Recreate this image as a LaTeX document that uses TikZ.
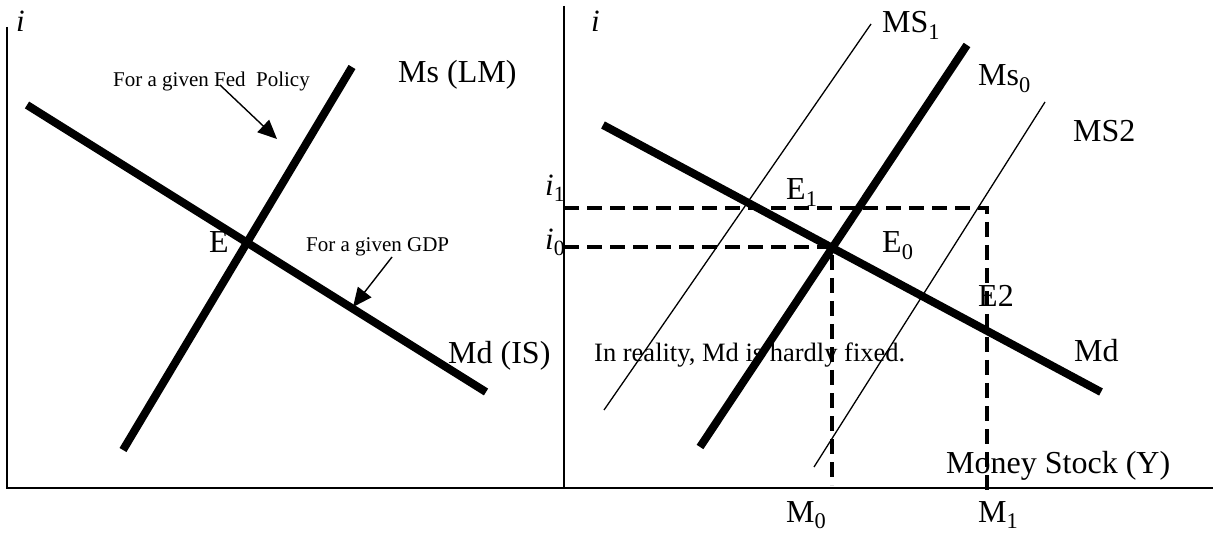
\documentclass[tikz,border=0pt]{standalone}
\usepackage{fontspec}
\setmainfont{Liberation Serif}
\usetikzlibrary{arrows.meta}
\begin{document}
\begin{tikzpicture}[x=1pt,y=-1pt,
  big/.style={font=\fontsize{32}{32}\selectfont, inner sep=0pt, anchor=base west},
  mid/.style={font=\fontsize{26.5}{26.5}\selectfont, inner sep=0pt, anchor=base west},
  ilabel/.style={font=\fontsize{31}{31}\selectfont, inner sep=0pt, anchor=base west},
  small/.style={font=\fontsize{21}{21}\selectfont, inner sep=0pt, anchor=base west},
  axisline/.style={line width=1.8pt},
  curve/.style={line width=8pt},
  thinline/.style={line width=1.3pt},
  dashline/.style={line width=3.5pt, dash pattern=on 15pt off 8pt},
  pointer/.style={line width=1.4pt, -{Triangle[length=19pt,width=17pt]}}]
\useasboundingbox (0,0) rectangle (1215,534);

% ---------- texts ----------
\node[ilabel] (iL) at (16,32) {\textit{i}};
\node[ilabel] (iR) at (591,32) {\textit{i}};
\node[small] (fed) at (113,87) {For a given Fed\ \ Policy};
\node[big] (mslm) at (398,83) {Ms (LM)};
\node[big] (E) at (209,253) {E};
\node[small] (gdp) at (306,252) {For a given GDP};
\node[big] (mdis) at (448,363) {Md (IS)};

\node[big] (ms1) at (882,33) {MS\textsubscript{1}};
\node[big] (ms0) at (978,86) {Ms\textsubscript{0}};
\node[big] (ms2) at (1073,142) {MS2};
\node[big] (e1) at (786,200) {E\textsubscript{1}};
\node[big] (e0) at (882,253) {E\textsubscript{0}};
\node[big] (e2) at (978,307) {E2};
\node[big] (md) at (1074,362) {Md};
\node[mid] (real) at (594,362) {In reality, Md is hardly fixed.};
\node[big] (money) at (946,473) {Money Stock (Y)};
\node[big] (m0) at (786,522) {M\textsubscript{0}};
\node[big] (m1) at (978,522) {M\textsubscript{1}};
\node[ilabel] (i1) at (545,196) {\textit{i}\textsubscript{1}};
\node[ilabel] (i0) at (545,250) {\textit{i}\textsubscript{0}};

% ---------- coordinates ----------
\coordinate (LAtop) at (7,27);
\coordinate (Orig) at (7,488);
\coordinate (Xend) at (1213,488);
\coordinate (RAtop) at (564,6);
\coordinate (RAbot) at (564,488);

\coordinate (LSa) at (123,450);  \coordinate (LSb) at (352,67);
\coordinate (LDa) at (27,105);   \coordinate (LDb) at (486,392);

\coordinate (S1a) at (604,410);  \coordinate (S1b) at (871,24);
\coordinate (S0a) at (700,447);  \coordinate (S0b) at (967,45);
\coordinate (S2a) at (814,467);  \coordinate (S2b) at (1045,102);
\coordinate (RDa) at (603,125);  \coordinate (RDb) at (1101,392);

\coordinate (I1a) at (564,208);  \coordinate (I1b) at (987,208);  \coordinate (I1c) at (987,495);
\coordinate (I0a) at (564,247);  \coordinate (I0b) at (832,247);  \coordinate (I0c) at (832,485);

\coordinate (FedA) at (220,85);  \coordinate (FedB) at (277,139);
\coordinate (GdpA) at (392,257); \coordinate (GdpB) at (353,307);

% ---------- axes ----------
\draw[axisline] (LAtop) -- (Orig) -- (Xend);
\draw[axisline] (RAtop) -- (RAbot);

% ---------- left panel ----------
\draw[curve] (LSa) -- (LSb);
\draw[curve] (LDa) -- (LDb);
\draw[pointer] (FedA) -- (FedB);
\draw[pointer] (GdpA) -- (GdpB);

% ---------- right panel ----------
\draw[thinline] (S1a) -- (S1b);
\draw[thinline] (S2a) -- (S2b);
\draw[curve] (S0a) -- (S0b);
\draw[curve] (RDa) -- (RDb);
\draw[dashline] (I1a) -- (I1b) -- (I1c);
\draw[dashline] (I0a) -- (I0b) -- (I0c);
\end{tikzpicture}
\end{document}
